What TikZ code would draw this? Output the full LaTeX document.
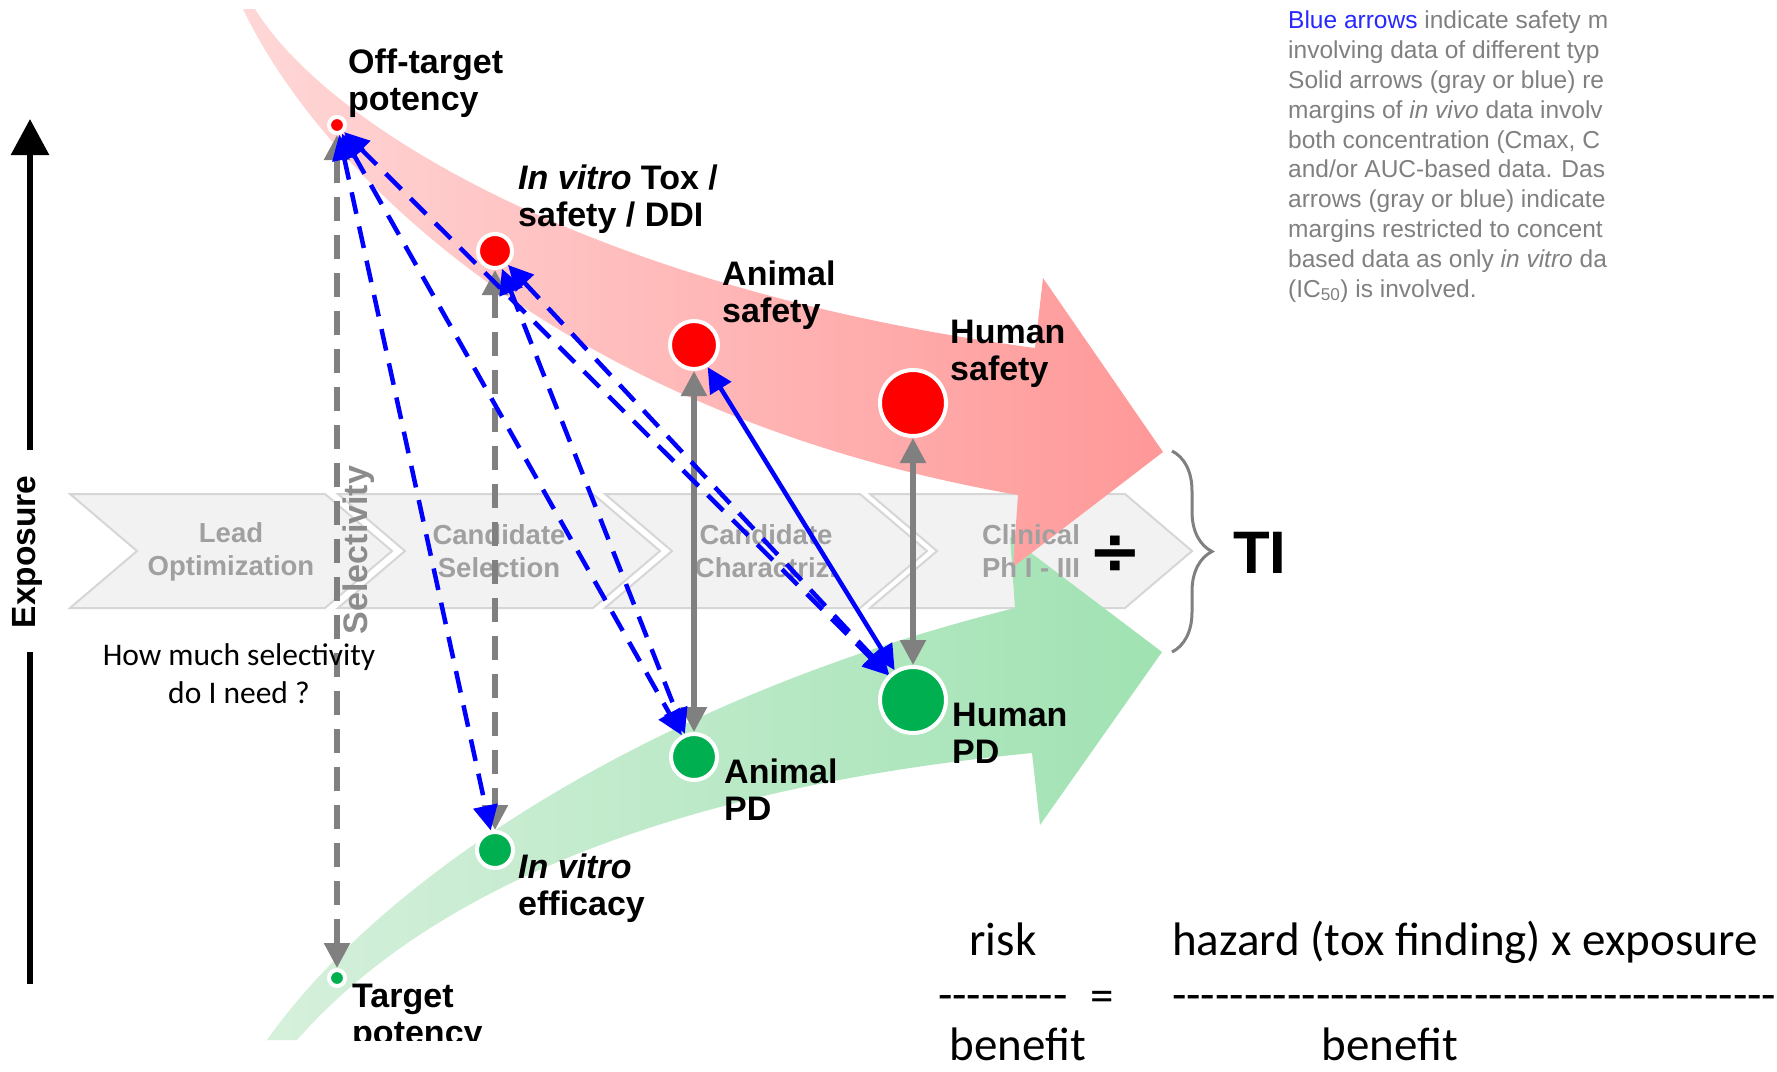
\documentclass[tikz,border=0pt]{standalone}
\usepackage{fontspec}
\setmainfont{Liberation Sans}
\newfontfamily\calibri{Carlito}
\newfontfamily\djv{DejaVu Sans}
\usetikzlibrary{arrows.meta,decorations.pathreplacing}
\definecolor{gr}{RGB}{128,128,128}
\definecolor{bl}{RGB}{0,0,255}
\definecolor{blu}{RGB}{40,40,255}
\definecolor{dotred}{RGB}{255,0,0}
\definecolor{dotgreen}{RGB}{0,176,80}
\definecolor{rdL}{RGB}{255,215,215}
\definecolor{rdR}{RGB}{255,152,152}
\definecolor{grL}{RGB}{214,240,220}
\definecolor{grR}{RGB}{160,226,178}
\definecolor{chevfill}{RGB}{242,242,242}
\definecolor{chevline}{RGB}{214,214,214}
\definecolor{chevtext}{RGB}{160,160,160}
\definecolor{seltext}{RGB}{140,140,140}
\newcommand\hyphrow[1]{\foreach\i in {1,...,#1}{\mbox{-}}}
\begin{document}
\begin{tikzpicture}[x=1pt,y=-1pt,
  dot/.style={circle, fill=#1, draw=white, line width=4pt, inner sep=0pt},
  lab/.style={anchor=base west, align=left, inner sep=0pt, font=\fontsize{34}{37}\selectfont\bfseries},
  chev/.style={fill=chevfill, draw=chevline, line width=2pt},
  chevtxt/.style={align=center, inner sep=0pt, text=chevtext, font=\fontsize{27.5}{33}\selectfont\bfseries},
  garrow/.style={draw=gr, line width=5.5pt, {Triangle[length=25pt,width=25pt]}-{Triangle[length=25pt,width=25pt]}},
  barrow/.style={draw=bl, line width=4.5pt, {Triangle[length=25pt,width=24pt]}-{Triangle[length=25pt,width=24pt]}},
  gdash/.style={dash pattern=on 24pt off 14pt},
  bdash/.style={dash pattern=on 22pt off 13pt},
  para/.style={anchor=base west, align=left, inner sep=0pt, text=gr, font=\fontsize{24.5}{29.8}\selectfont},
  fml/.style={inner sep=0pt, font=\calibri\fontsize{47}{47}\selectfont}
]
\useasboundingbox (0,0) rectangle (1777,1071);
\fill[white] (0,0) rectangle (1777,1071);

\begin{scope}
\clip (0,9) rectangle (1777,1040);
% process chevrons
\foreach \x in {70,338,605,870}
  \filldraw[chev] (\x,494) -- ++(255,0) -- ++(67,57) -- ++(-67,57) -- ++(-255,0) -- ++(67,-57) -- cycle;

% green band arrow
\shade[left color=grL, right color=grR]
  (267,1040) .. controls (378,882) and (645,700) .. (1015,608)
  -- (1010,537) -- (1162,652) -- (1040,825) -- (1032,753)
  .. controls (650,790) and (420,900) .. (297,1040) -- cycle;
% red band arrow
\shade[left color=rdL, right color=rdR]
  (255,9) .. controls (330,130) and (600,290) .. (1035,348)
  -- (1043,278) -- (1163,452) -- (1013,567) -- (1018,495)
  .. controls (560,415) and (320,170) .. (243,9) -- cycle;

% chevron texts
\node[chevtxt] (c1) at (231,551.5) {Lead\\Optimization};
\node[chevtxt] (c2) at (499,551.5) {Candidate\\Selection};
\node[chevtxt] (c3) at (766,551.5) {Candidate\\Charactriz.};
\node[chevtxt] (c4) at (1031,551.5) {Clinical\\Ph I - III};

\node[inner sep=0pt, font=\djv\bfseries\fontsize{64}{64}\selectfont] (div) at (1115,555) {÷};
\coordinate (bTop) at (1172,451);
\coordinate (bBot) at (1172,652);
\draw[gr, line width=3pt, decorate, decoration={brace, amplitude=40pt}] (bTop) -- (bBot);
\node[anchor=west, inner sep=0pt, font=\fontsize{60}{60}\selectfont\bfseries] (ti) at (1233,553) {TI};

\node[rotate=90, inner sep=0pt, text=seltext, font=\fontsize{34}{34}\selectfont\bfseries] (sel) at (359,550) {Selectivity};

% exposure axis
\coordinate (expB) at (30,984);
\coordinate (expM1) at (30,652);
\coordinate (expM2) at (30,450);
\coordinate (expT) at (30,119);
\draw[line width=6pt] (expB) -- (expM1);
\draw[line width=6pt, -{Triangle[length=36pt,width=37pt]}] (expM2) -- (expT);
\node[rotate=90, inner sep=0pt, font=\fontsize{33.5}{33.5}\selectfont\bfseries] (expo) at (27,552) {Exposure};

% dots
\node[dot=dotred, minimum size=16pt] (off) at (337,125) {};
\node[dot=dotred, minimum size=34pt] (tox) at (495,251) {};
\node[dot=dotred, minimum size=48pt] (anS) at (694,345) {};
\node[dot=dotred, minimum size=66pt] (huS) at (913,403) {};
\node[dot=dotgreen, minimum size=66pt] (huPD) at (913,700) {};
\node[dot=dotgreen, minimum size=46pt] (anPD) at (694,757) {};
\node[dot=dotgreen, minimum size=36pt] (eff) at (495,850) {};
\node[dot=dotgreen, minimum size=16pt] (tgt) at (337,978) {};

% arrows
\draw[garrow, gdash] (off) -- (tgt);
\draw[garrow, gdash] (tox) -- (eff);
\draw[garrow] (anS) -- (anPD);
\draw[garrow] (huS) -- (huPD);
\draw[barrow, bdash] (off) -- (eff);
\draw[barrow, bdash] (off) -- (anPD);
\draw[barrow, bdash] (off) -- (huPD);
\draw[barrow, bdash] (tox) -- (anPD);
\draw[barrow, bdash] (tox) -- (huPD);
\draw[barrow] (anS) -- (huPD);

% labels (anchor = baseline of the last line)
\node[lab] (lOff) at (348,110) {Off-target\\potency};
\node[lab] (lTox) at (518,226) {\textit{In vitro} Tox /\\safety / DDI};
\node[lab] (lAnS) at (722,322) {Animal\\safety};
\node[lab] (lHuS) at (950,380) {Human\\safety};
\node[lab] (lHuPD) at (952,763) {Human\\PD};
\node[lab] (lAnPD) at (724,820) {Animal\\PD};
\node[lab] (lEff) at (518,915) {\textit{In vitro}\\efficacy};
\node[lab] (lTgt) at (352,1044) {Target\\potency};

\node[anchor=base, align=center, inner sep=0pt, font=\calibri\fontsize{31.5}{38}\selectfont] (how) at (239,703) {How much selectivity\\do I need ?};
\end{scope}

% explanatory note (cropped at the right)
\begin{scope}
\clip (1280,0) rectangle (1607,330);
\node[para] (note) at (1288,297) {\textcolor{blu}{Blue arrows} indicate safety m\\
involving data of different typ\\
Solid arrows (gray or blue) re\\
margins of \textit{in vivo} data involv\\
both concentration (Cmax, C\\
and/or AUC-based data. Das\\
arrows (gray or blue) indicate\\
margins restricted to concent\\
based data as only \textit{in vitro} da\\
(IC\textsubscript{50}) is involved.};
\end{scope}

% formula
\node[fml, anchor=base] (risk) at (1003,955) {risk};
\node[fml, anchor=base west] (haz) at (1172,955) {hazard (tox finding) x exposure};
\node[fml, anchor=base west] (dashA) at (938,1010) {\hyphrow{9}};
\node[fml, anchor=base] (eq) at (1102,1011) {=};
\node[fml, anchor=base west] (dashB) at (1172,1010) {\hyphrow{42}};
\node[fml, anchor=base] (ben1) at (1018,1060) {benefit};
\node[fml, anchor=base] (ben2) at (1390,1060) {benefit};
\end{tikzpicture}
\end{document}
